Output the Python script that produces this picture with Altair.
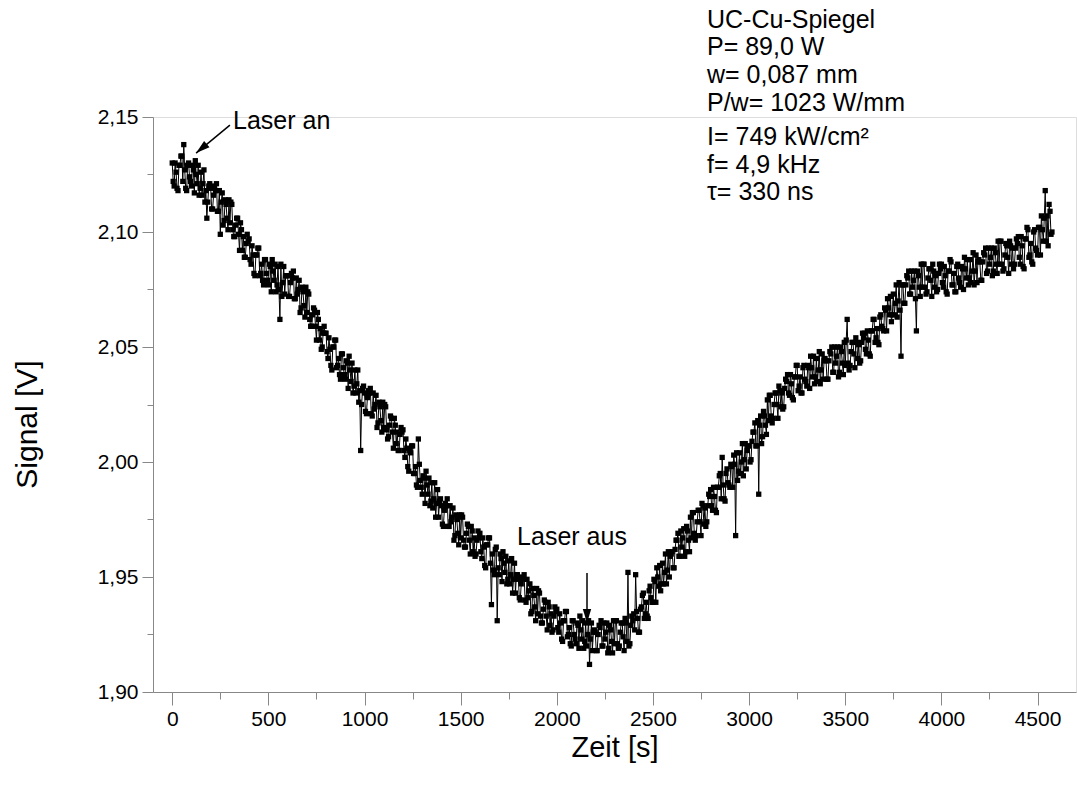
import altair as alt
import pandas as pd

# ---- data ----
# samples every 5 s; stored as two interleaved lists (t = 0,10,20,... and t = 5,15,25,...)
t_even = list(range(0, 4580, 10))
t_odd = list(range(5, 4580, 10))

# signal in mV above 1.900 V, one row per 100 s
signal_even_mv = [
    230, 220, 226, 218, 229, 233, 238, 219, 229, 224,
    220, 227, 231, 221, 216, 226, 221, 213, 206, 220,
    219, 210, 220, 221, 209, 199, 217, 205, 212, 201,
    204, 212, 198, 203, 206, 192, 201, 198, 189, 199,
    197, 186, 190, 181, 190, 193, 182, 179, 188, 182,
    177, 185, 188, 179, 174, 185, 162, 172, 185, 181,
    181, 172, 182, 183, 171, 173, 179, 167, 174, 163,
    165, 173, 159, 164, 166, 153, 162, 158, 150, 159,
    156, 145, 149, 140, 150, 153, 142, 138, 147, 141,
    136, 143, 146, 135, 130, 140, 134, 126, 105, 132,
    130, 121, 131, 132, 120, 123, 129, 117, 124, 113,
    115, 124, 110, 116, 119, 106, 116, 113, 105, 115,
    114, 102, 106, 96, 104, 107, 95, 90, 110, 92,
    86, 93, 96, 86, 81, 91, 84, 76, 88, 83,
    81, 72, 82, 84, 72, 74, 80, 68, 75, 64,
    67, 76, 63, 69, 72, 60, 70, 67, 60, 70,
    69, 58, 63, 54, 64, 67, 38, 53, 62, 31,
    51, 58, 61, 52, 47, 57, 51, 43, 56, 51,
    49, 40, 50, 51, 39, 41, 47, 35, 42, 31,
    34, 43, 30, 36, 39, 27, 37, 34, 27, 37,
    36, 26, 30, 22, 31, 35, 25, 21, 31, 25,
    21, 29, 33, 23, 19, 30, 25, 12, 30, 26,
    26, 18, 29, 31, 20, 23, 30, 19, 27, 17,
    21, 31, 19, 26, 30, 18, 30, 52, 21, 33,
    34, 51, 32, 26, 37, 43, 34, 33, 44, 41,
    39, 48, 54, 46, 44, 56, 52, 47, 61, 59,
    61, 54, 66, 69, 59, 63, 71, 61, 70, 61,
    67, 78, 66, 74, 79, 68, 81, 80, 74, 86,
    88, 79, 85, 78, 89, 95, 102, 84, 95, 91,
    89, 98, 103, 68, 92, 104, 100, 94, 108, 105,
    107, 101, 113, 117, 107, 86, 120, 111, 120, 112,
    118, 129, 117, 125, 130, 119, 131, 130, 124, 136,
    138, 129, 134, 127, 137, 142, 133, 130, 141, 136,
    133, 141, 146, 137, 134, 145, 140, 134, 147, 144,
    144, 136, 148, 150, 139, 143, 150, 139, 148, 138,
    142, 162, 140, 148, 152, 141, 152, 151, 144, 156,
    156, 147, 153, 146, 157, 162, 154, 152, 163, 159,
    157, 166, 171, 164, 161, 173, 169, 163, 178, 146,
    177, 169, 181, 183, 173, 176, 183, 157, 181, 172,
    176, 186, 173, 180, 184, 172, 183, 181, 175, 186,
    186, 176, 181, 173, 183, 187, 177, 174, 185, 180,
    176, 184, 189, 180, 177, 188, 183, 177, 190, 187,
    187, 179, 191, 193, 183, 186, 193, 183, 191, 182,
    186, 196, 183, 190, 194, 182, 194, 193, 186, 197,
    198, 186, 194, 184, 197, 201, 190, 187, 200, 193,
    190, 202, 207, 196, 218, 207, 212, 199,
]
signal_odd_mv = [
    222, 230, 219, 229, 233, 222, 227, 218, 230, 222,
    229, 217, 225, 229, 219, 216, 227, 218, 213, 221,
    210, 216, 218, 209, 218, 213, 203, 214, 206, 214,
    213, 201, 198, 206, 199, 204, 192, 189, 195, 196,
    188, 194, 182, 190, 193, 181, 186, 177, 188, 179,
    186, 174, 183, 186, 177, 175, 186, 178, 173, 181,
    172, 178, 180, 171, 180, 175, 165, 176, 168, 176,
    174, 162, 159, 167, 159, 165, 153, 149, 156, 156,
    148, 154, 142, 150, 153, 141, 145, 136, 147, 138,
    144, 132, 140, 143, 133, 130, 140, 131, 125, 133,
    122, 128, 130, 121, 130, 125, 115, 126, 118, 126,
    125, 114, 111, 120, 113, 119, 108, 105, 112, 113,
    105, 110, 98, 105, 107, 95, 98, 89, 99, 89,
    94, 82, 90, 93, 83, 80, 91, 82, 76, 84,
    73, 79, 81, 72, 81, 76, 66, 77, 69, 77,
    77, 66, 63, 73, 66, 72, 61, 59, 66, 67,
    61, 67, 55, 64, 67, 56, 60, 51, 63, 54,
    60, 48, 56, 59, 49, 47, 58, 49, 43, 51,
    41, 47, 49, 40, 49, 44, 34, 45, 37, 45,
    44, 33, 30, 40, 33, 39, 29, 26, 33, 35,
    28, 34, 23, 31, 35, 24, 28, 20, 31, 23,
    30, 19, 27, 31, 22, 20, 31, 23, 18, 27,
    18, 25, 28, 20, 30, 26, 17, 29, 22, 31,
    31, 21, 20, 30, 24, 32, 22, 20, 29, 31,
    27, 35, 26, 36, 42, 32, 39, 32, 46, 39,
    49, 39, 50, 55, 47, 47, 60, 53, 50, 60,
    54, 62, 66, 59, 70, 67, 59, 72, 66, 76,
    78, 69, 68, 79, 74, 82, 73, 72, 81, 85,
    81, 89, 79, 89, 94, 84, 90, 83, 97, 90,
    99, 89, 99, 104, 96, 95, 108, 101, 97, 107,
    100, 109, 113, 107, 118, 116, 108, 122, 116, 127,
    129, 120, 119, 130, 125, 133, 124, 123, 132, 135,
    130, 138, 128, 137, 142, 131, 137, 130, 142, 135,
    142, 132, 141, 146, 137, 135, 148, 140, 136, 145,
    136, 144, 147, 139, 150, 146, 137, 150, 143, 152,
    153, 143, 142, 152, 147, 154, 145, 143, 152, 154,
    149, 157, 147, 157, 162, 152, 158, 151, 164, 158,
    167, 157, 167, 172, 164, 164, 177, 170, 166, 177,
    169, 177, 180, 173, 183, 179, 171, 183, 176, 186,
    186, 176, 174, 184, 179, 186, 176, 174, 182, 184,
    178, 185, 174, 183, 188, 177, 182, 174, 186, 178,
    185, 175, 184, 188, 180, 178, 191, 183, 178, 188,
    179, 187, 190, 182, 193, 189, 181, 193, 186, 196,
    196, 186, 184, 195, 189, 196, 186, 184, 193, 195,
    189, 198, 185, 197, 202, 189, 195, 186, 201, 192,
    202, 190, 201, 206, 196, 194, 209, 200,
]

x_tick_values = list(range(0, 4501, 250))
y_tick_values = [round(1.9 + 0.025 * i, 3) for i in range(11)]

info_lines_a = ["UC-Cu-Spiegel", "P= 89,0 W", "w= 0,087 mm", "P/w= 1023 W/mm"]
info_lines_b = ["I= 749 kW/cm²", "f= 4,9 kHz", "τ= 330 ns"]

df = pd.DataFrame({
    "t": t_even + t_odd,
    "V": [round(1.9 + v / 1000.0, 4) for v in signal_even_mv + signal_odd_mv],
}).sort_values("t").reset_index(drop=True)

FONT = "Liberation Sans"

xscale = alt.Scale(domain=[-100, 4700], nice=False, zero=False)
yscale = alt.Scale(domain=[1.90, 2.15], nice=False, zero=False)

xaxis = alt.Axis(
    title="Zeit [s]",
    values=x_tick_values,
    format="d",
    labelExpr="datum.value % 500 === 0 ? datum.label : ''",
    tickSize={"condition": {"test": "datum.value % 500 === 0", "value": 13}, "value": 7},
    grid=False,
    labelFontSize=21,
    titleFontSize=29,
    titleFontWeight="normal",
    labelPadding=3,
    titlePadding=4,
)
yaxis = alt.Axis(
    title="Signal [V]",
    values=y_tick_values,
    labelExpr="round(datum.value*1000) % 50 === 0 ? replace(format(datum.value, '.2f'), '.', ',') : ''",
    tickSize={"condition": {"test": "round(datum.value*1000) % 50 === 0", "value": 11}, "value": 6},
    grid=False,
    labelFontSize=21,
    titleFontSize=30,
    titleFontWeight="normal",
    labelPadding=4,
    titlePadding=55,
    titleY=307,
)

base = alt.Chart(df)
line = base.mark_line(color="black", strokeWidth=1).encode(
    x=alt.X("t:Q", scale=xscale, axis=xaxis, sort=None),
    y=alt.Y("V:Q", scale=yscale, axis=yaxis),
    order="t:Q",
)
pts = base.mark_point(shape="square", filled=True, color="black", size=28, opacity=1).encode(
    x=alt.X("t:Q", scale=xscale),
    y=alt.Y("V:Q", scale=yscale),
)

# annotations (in data coordinates)
labels = pd.DataFrame({
    "t": [316, 2079],
    "V": [2.1483, 1.9674],
    "txt": ["Laser an", "Laser aus"],
})
lab_an = alt.Chart(labels.iloc[[0]]).mark_text(align="left", baseline="middle", font=FONT, fontSize=25, color="black").encode(
    x=alt.X("t:Q", scale=xscale), y=alt.Y("V:Q", scale=yscale), text="txt:N")
lab_aus = alt.Chart(labels.iloc[[1]]).mark_text(align="center", baseline="middle", font=FONT, fontSize=25, color="black").encode(
    x=alt.X("t:Q", scale=xscale), y=alt.Y("V:Q", scale=yscale), text="txt:N")

arrows = pd.DataFrame({
    "t1": [300, 2157], "V1": [2.1465, 1.9517],
    "t2": [124, 2157], "V2": [2.1343, 1.9300],
    "ang": [230, 180],
})
shafts = alt.Chart(arrows).mark_rule(color="black", strokeWidth=1.5).encode(
    x=alt.X("t1:Q", scale=xscale), y=alt.Y("V1:Q", scale=yscale),
    x2="t2:Q", y2="V2:Q")
heads = alt.Chart(arrows).mark_point(
    shape="M0,0 L0.6,2 L-0.6,2 Z", filled=True, color="black", opacity=1, size=196
).encode(
    x=alt.X("t2:Q", scale=xscale), y=alt.Y("V2:Q", scale=yscale),
    angle=alt.Angle("ang:Q", scale=None))

info = pd.DataFrame({"t": [2781, 2781], "V": [2.1975, 2.1465], "txt": [info_lines_a, info_lines_b]})
info_text = alt.Chart(info).mark_text(
    align="left", baseline="top", font=FONT, fontSize=25, color="black", lineHeight=27.6
).encode(x=alt.X("t:Q", scale=xscale), y=alt.Y("V:Q", scale=yscale), text="txt")

chart = alt.layer(line, pts, shafts, heads, lab_an, lab_aus, info_text).properties(
    width=923,
    height=575,
    autosize=alt.AutoSizeParams(type="none"),
    padding={"left": 153, "top": 117, "right": 1, "bottom": 93},
).configure_view(stroke=None).configure_axis(
    labelFont=FONT, titleFont=FONT, labelColor="black", titleColor="black",
    domainColor="black", tickColor="black", domainWidth=1.5, tickWidth=1.5,
).configure(background="white")

chart.save("out.html", embed_options={"renderer": "svg", "actions": False})
